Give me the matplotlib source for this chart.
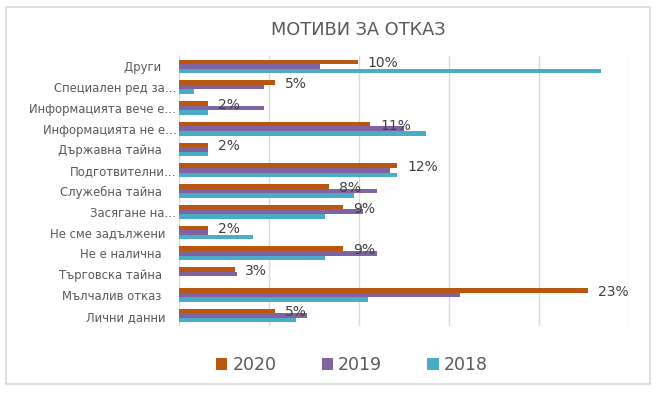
#chart of the refusal motives for three years
import numpy as np
import matplotlib
matplotlib.use("Agg")
import matplotlib.pyplot as plt
from matplotlib.patches import Patch, Rectangle

#categories from top to bottom, trailing spaces keep the original label alignment
categories = ["Други    ", "Специален ред за…", "Информацията вече е…", "Информацията не е…",
              "Държавна тайна    ", "Подготвителни…", "Служебна тайна    ", "Засягане на…",
              "Не сме задължени   ", "Не е налична    ", "Търговска тайна    ",
              "Мълчалив отказ    ", "Лични данни   "]

#values in percent
values_2020 = [9.9, 5.3, 1.6, 10.6, 1.6, 12.1, 8.3, 9.1, 1.6, 9.1, 3.1, 22.7, 5.3]
values_2019 = [7.8, 4.7, 4.7, 12.5, 1.6, 11.7, 11.0, 10.2, 1.6, 11.0, 3.2, 15.6, 7.1]
values_2018 = [23.4, 0.8, 1.6, 13.7, 1.6, 12.1, 9.7, 8.1, 4.1, 8.1, 0.0, 10.5, 6.5]

#data labels shown next to the 2020 bars
labels_2020 = ["10%", "5%", "2%", "11%", "2%", "12%", "8%", "9%", "2%", "9%", "3%", "23%", "5%"]

years = ["2020", "2019", "2018"]
colors = ["#B9560F", "#8064A2", "#4BACC6"]

fig = plt.figure(figsize=(6.58, 3.95), dpi=100)
ax = fig.add_axes([0.2725, 0.1747, 0.684, 0.6835])

#outer light gray frame of the chart
fig.patches.append(Rectangle((6 / 658, 1 - 384 / 395), 644 / 658, 377 / 395,
                             transform=fig.transFigure, fill=False,
                             edgecolor="#D9D9D9", linewidth=1.2))

y = np.arange(len(categories))
bar_h = 0.22
for i, vals in enumerate([values_2020, values_2019, values_2018]):
    ax.barh(y + (i - 1) * bar_h, vals, height=bar_h, color=colors[i], zorder=3)

#percent labels to the right of the 2020 bars
for i, (v, lab) in enumerate(zip(values_2020, labels_2020)):
    ax.text(v + 0.55, i - 0.15, lab, ha="left", va="center", fontsize=10, color="#404040", zorder=4)

ax.set_xlim(0, 25)
ax.set_ylim(len(categories) - 0.5, -0.5)
ax.set_xticks(np.arange(0, 26, 5))
ax.set_xticklabels([])
ax.tick_params(axis="x", length=0)
ax.grid(axis="x", color="#D9D9D9", linewidth=1, zorder=0)

ax.set_yticks(y)
ax.set_yticklabels(categories, fontsize=8.4, color="#595959")
ax.tick_params(axis="y", length=0, pad=2)

for s in ax.spines.values():
    s.set_visible(False)

#title
fig.text(0.544, 0.924, "МОТИВИ ЗА ОТКАЗ", ha="center", va="center", fontsize=12.8, color="#595959")

#legend at the bottom
handles = [Patch(facecolor=c, edgecolor="none") for c in colors]
fig.legend(handles, years, loc="center", bbox_to_anchor=(0.535, 1 - 365 / 395), ncol=3,
           frameon=False, fontsize=12.5, labelcolor="#595959", handlelength=0.65,
           handleheight=0.65, handletextpad=0.3, columnspacing=2.6)

fig.savefig("out.png", dpi=100)
